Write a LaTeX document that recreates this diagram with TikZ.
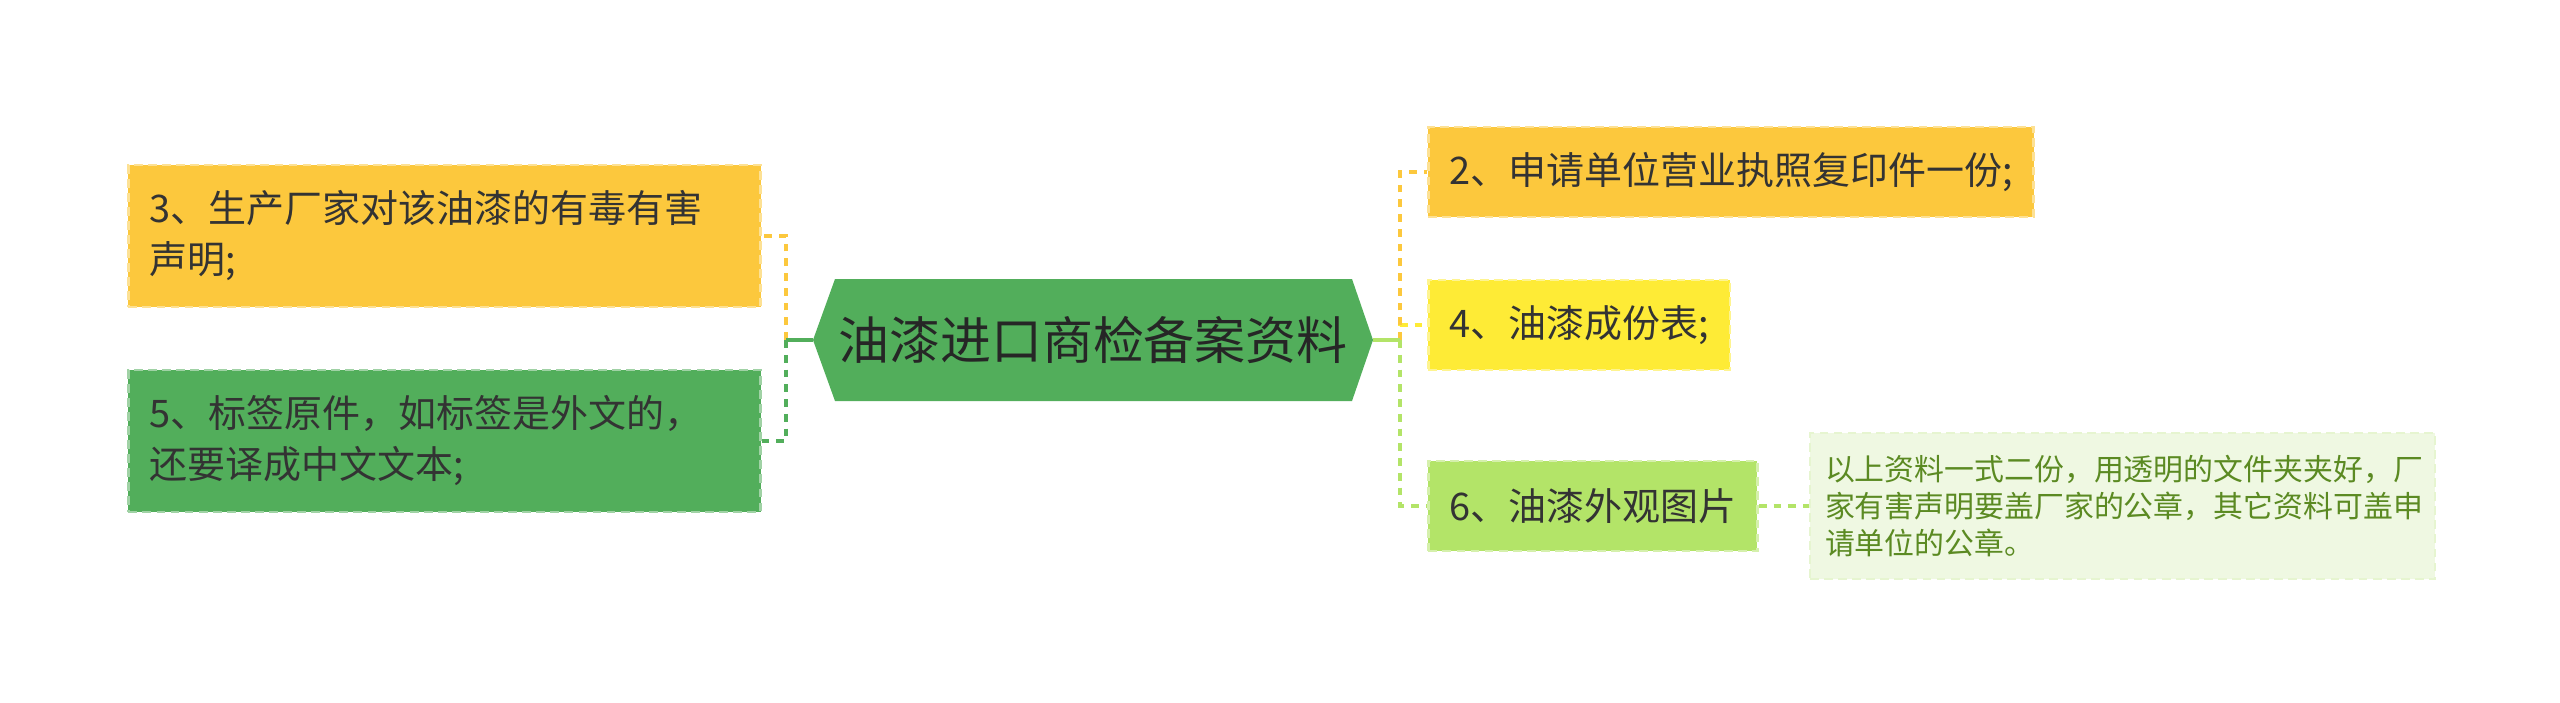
\documentclass[tikz,border=0pt]{standalone}
\usepackage{fontspec}
\setmainfont{Noto Sans CJK SC}
\definecolor{orng}{HTML}{FCC83D}
\definecolor{yllw}{HTML}{FEEB36}
\definecolor{grn}{HTML}{52AE5B}
\definecolor{lgrn}{HTML}{B3E468}
\definecolor{notebg}{HTML}{EFF8E2}
\definecolor{notetx}{HTML}{5B8A22}
\definecolor{txt}{HTML}{333333}
\begin{document}
\begin{tikzpicture}[x=.01cm,y=-.01cm,line width=1pt,
  every node/.style={text=txt,inner sep=0pt},
  box/.style={fill=#1,draw=white!45!#1,dash pattern=on 2.5pt off 1.5pt,line width=.8pt,
    anchor=west,align=left,inner xsep=.21cm,minimum height=.9cm,font=\fontsize{10.8}{14.5}\selectfont},
  link/.style={draw=#1,dash pattern=on 2.2pt off 2pt}]
  \path[use as bounding box,fill=white] (0,0) rectangle (2560,703);
  \coordinate (hl) at (813,340);
  \coordinate (hr) at (1373,340);
  \coordinate (jl) at (786,340);
  \coordinate (jr) at (1400,340);
  \fill[grn] (hl)--(835,279)--(1352,279)--(hr)--(1352,401)--(835,401)--cycle;
  \node[font=\fontsize{14.5}{17}\selectfont,text=black!85] (title) at (1093,340) {油漆进口商检备案资料};
  \node[box=orng,text width=5.9cm,minimum height=1.42cm] (b3) at (127,236) {3、生产厂家对该油漆的有毒有害\\声明;};
  \node[box=grn,text width=5.9cm,minimum height=1.42cm] (b5) at (127,441) {5、标签原件，如标签是外文的，\\还要译成中文文本;};
  \node[box=orng,minimum width=6.03cm] (b2) at (1427,172) {2、申请单位营业执照复印件一份;};
  \node[box=yllw,minimum width=3cm] (b4) at (1427,325) {4、油漆成份表;};
  \node[box=lgrn,minimum width=3.28cm] (b6) at (1427,506) {6、油漆外观图片};
  \node[fill=notebg,draw=notebg!85!lgrn,dash pattern=on 2.5pt off 1.5pt,line width=.6pt,anchor=west,
    align=left,text=notetx,text width=5.95cm,inner xsep=.15cm,minimum height=1.46cm,
    font=\fontsize{8.5}{10.6}\selectfont] (note) at (1809,506)
    {以上资料一式二份，用透明的文件夹夹好，厂\\家有害声明要盖厂家的公章，其它资料可盖申\\请单位的公章。};
  \draw[link=orng] (jl) |- (b3.east);
  \draw[link=grn] (jl) |- (b5.east);
  \draw[grn] (hl) -- (jl);
  \draw[link=yllw] (jr) |- (b4.west);
  \draw[link=orng] (jr) |- (b2.west);
  \draw[link=lgrn] (jr) |- (b6.west);
  \draw[lgrn] (hr) -- (jr);
  \draw[link=lgrn] (b6.east) -- (note.west);
\end{tikzpicture}
\end{document}
